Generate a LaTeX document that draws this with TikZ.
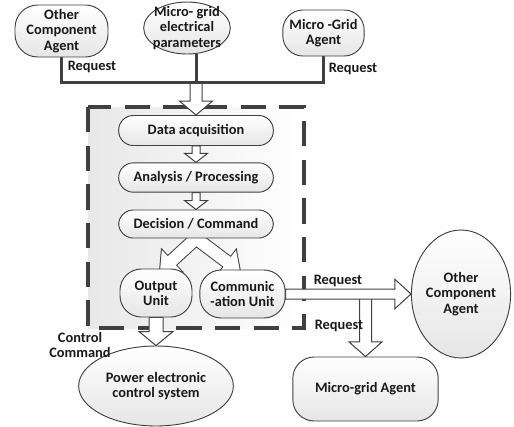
\documentclass[tikz,border=0pt]{standalone}
\usepackage{fontspec}
\setmainfont{Carlito}
\usetikzlibrary{calc}
\usetikzlibrary{shapes}
\usetikzlibrary{backgrounds}

\tikzset{
  txt/.style={font=\bfseries\fontsize{10.8}{11.5}\selectfont, align=center, inner sep=0pt, text=black!90},
  rbox/.style={txt, draw=black!75, line width=0.7pt, top color=white, bottom color=black!10, rounded corners=#1},
  ebox/.style={txt, ellipse, draw=black!75, line width=0.7pt, top color=white, bottom color=black!10},
  busline/.style={draw=black!75, line width=2.25pt},
  dashbox/.style={draw=black!75, line width=2.6pt, dash pattern=on 19pt off 10pt, left color=black!9, right color=white},
  arrline/.style={draw=black!75, line width=0.75pt, fill=white},
  hollow/.style n args={3}{to path={
    ($(\tikztostart)!#1!90:(\tikztotarget)$)
    -- ($($(\tikztotarget)!#3!(\tikztostart)$)!#1!90:(\tikztotarget)$)
    -- ($($(\tikztotarget)!#3!(\tikztostart)$)!#2!90:(\tikztotarget)$)
    -- (\tikztotarget)
    -- ($($(\tikztotarget)!#3!(\tikztostart)$)!#2!-90:(\tikztotarget)$)
    -- ($($(\tikztotarget)!#3!(\tikztostart)$)!#1!-90:(\tikztotarget)$)
    -- ($(\tikztostart)!#1!-90:(\tikztotarget)$)
    -- cycle}}
}

\begin{document}
\begin{tikzpicture}[x=0.75pt,y=0.75pt,yscale=-1,xscale=1]
\useasboundingbox (0,0) rectangle (514,426);

%Top row
\node[rbox=17pt, minimum width=69.75pt, minimum height=39pt] (oca1) at (61.5,31) {Other\\Component\\Agent};
\node[ebox, inner sep=-3pt, minimum width=65pt, minimum height=39pt] (emp) at (187,28) {Micro- grid\\electrical\\parameters};
\node[rbox=15pt, minimum width=61pt, minimum height=34.5pt] (mga1) at (323.5,33) {Micro -Grid\\Agent};

%Agent blocks
\node[rbox=11pt, minimum width=116pt, minimum height=22.5pt] (dacq) at (196,130.5) {Data acquisition};
\node[rbox=11pt, minimum width=116pt, minimum height=22pt] (ana) at (196,177.5) {Analysis / Processing};
\node[rbox=11pt, minimum width=116pt, minimum height=21pt] (dec) at (196,224) {Decision / Command};
\node[rbox=16pt, minimum width=54pt, minimum height=36pt] (out) at (156,293) {Output\\Unit};
\node[rbox=16pt, minimum width=64pt, minimum height=36pt] (comm) at (242.5,294) {Communic\\-ation Unit};

%Bottom row
\node[ebox, minimum width=116pt, minimum height=60pt] (pec) at (156,386) {Power electronic\\control system};
\node[ebox, minimum width=73.5pt, minimum height=96pt] (oca2) at (461,294) {Other\\Component\\Agent};
\node[rbox=16pt, minimum width=109pt, minimum height=48pt] (mga2) at (365.5,389) {Micro-grid Agent};

% Text Node
\node[txt] (rq1) at (92,67) {Request};
\node[txt] (rq2) at (353,69) {Request};
\node[txt] (rq3) at (338,281) {Request};
\node[txt] (rq4) at (339,326) {Request};
\node[txt] (ctl) at (80,345) {Control\\Command};

\coordinate (busM) at (196,82);
\coordinate (busR) at (323.5,82);
\coordinate (outtop) at ($(out.north)+(4,3)$);
\coordinate (commtop) at ($(comm.north)+(-2.5,2)$);
\coordinate (rqsplit) at (comm.east -| mga2.north);

\begin{pgfonlayer}{background}
%Shape: Dashed box
\draw[dashbox] (88,107) rectangle (304,328);
%Block arrows
\draw[arrline] (busM) to[hollow={4.5pt}{12.4pt}{10.5pt}] (dacq.north);
\draw[arrline] (dacq.south) to[hollow={3pt}{8.6pt}{6.75pt}] (ana.north);
\draw[arrline] (ana.south) to[hollow={3pt}{8.6pt}{6.75pt}] (dec.north);
\draw[arrline, line width=1.5pt] (dec.south) to[hollow={4.5pt}{11pt}{12pt}] (outtop) (dec.south) to[hollow={4.5pt}{11pt}{12pt}] (commtop);
\fill[white] (dec.south) to[hollow={4.5pt}{11pt}{12pt}] (outtop) (dec.south) to[hollow={4.5pt}{11pt}{12pt}] (commtop);
\draw[arrline] (out.south) to[hollow={5.25pt}{12.75pt}{10.5pt}] (pec.north);
\draw[arrline] (rqsplit) to[hollow={4.5pt}{12.4pt}{11pt}] (mga2.north);
\draw[arrline] (comm.east) to[hollow={3.75pt}{11pt}{12pt}] (oca2.west);
%Straight Lines
\draw[busline] (oca1.south) |- (busR) -- (mga1.south);
\draw[busline] (emp.south -| busM) -- (busM);
\end{pgfonlayer}

\end{tikzpicture}
\end{document}
